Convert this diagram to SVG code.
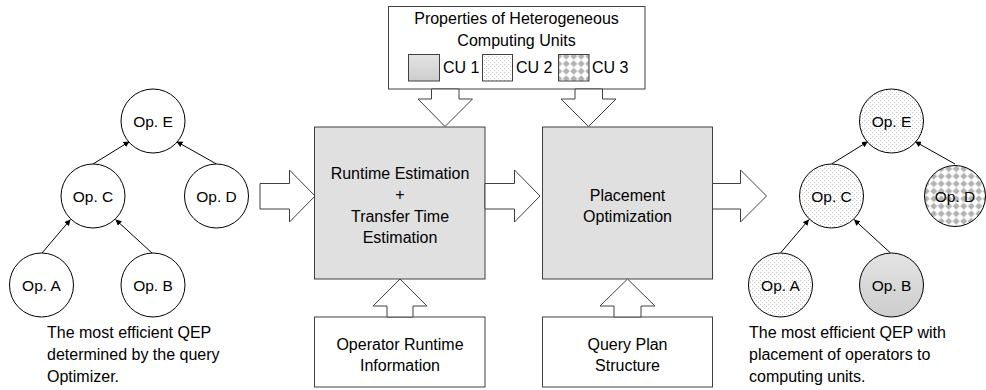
<svg xmlns="http://www.w3.org/2000/svg" width="986" height="390" viewBox="0 0 986 390">
<defs>
<style>
.box{fill:#e0e0e0;stroke:#404040;stroke-width:1}
.wbox{fill:#fff;stroke:#404040;stroke-width:1}
.barrow{fill:#fff;stroke:#404040;stroke-width:1;stroke-linejoin:miter}
.node{stroke:#000;stroke-width:1}
.edge{stroke:#000;stroke-width:1;fill:none;marker-end:url(#ah)}
text{font-family:"Liberation Sans",Arial,sans-serif;font-size:16px;fill:#000}
.c{text-anchor:middle}
.op{font-size:15.5px;text-anchor:middle}
</style>
<marker id="ah" markerWidth="6" markerHeight="6" refX="6" refY="3" orient="auto" markerUnits="userSpaceOnUse">
<path d="M0,0 L6,3 L0,6 z" fill="#000"/>
</marker>
<linearGradient id="g1" x1="0" y1="0" x2="0" y2="1">
<stop offset="0" stop-color="#e4e4e4"/>
<stop offset="1" stop-color="#cdcdcd"/>
</linearGradient>
<pattern id="dots" width="4" height="4" patternUnits="userSpaceOnUse">
<rect width="4" height="4" fill="#fff"/>
<rect x="0" y="0" width="1" height="1" fill="#c4c4c4"/>
<rect x="2" y="2" width="1" height="1" fill="#c4c4c4"/>
</pattern>
<pattern id="diam" width="7.5" height="7.5" patternUnits="userSpaceOnUse">
<rect width="7.5" height="7.5" fill="#fff"/>
<polygon points="3.75,0.2 7.3,3.75 3.75,7.3 0.2,3.75" fill="#b2b2b2"/>
</pattern>
</defs>

<g id="connectors">
<line class="edge" x1="93" y1="164" x2="129.5" y2="141.5"/>
<line class="edge" x1="216.5" y1="164" x2="176.5" y2="141.5"/>
<line class="edge" x1="42" y1="253" x2="70.5" y2="219.5"/>
<line class="edge" x1="152" y1="253" x2="115.5" y2="219.5"/>
<line class="edge" x1="831.5" y1="164" x2="868" y2="141.5"/>
<line class="edge" x1="955" y1="164" x2="915" y2="141.5"/>
<line class="edge" x1="780.5" y1="253" x2="809" y2="219.5"/>
<line class="edge" x1="890.5" y1="253" x2="854" y2="219.5"/>
</g>

<g id="left-tree">
<g id="l-opE"><circle class="node" cx="153" cy="121" r="32" fill="#fff"/><text class="op" x="153" y="126.5">Op. E</text></g>
<g id="l-opC"><circle class="node" cx="93" cy="196" r="32" fill="#fff"/><text class="op" x="93" y="201.5">Op. C</text></g>
<g id="l-opD"><circle class="node" cx="216.5" cy="196" r="32" fill="#fff"/><text class="op" x="216.5" y="201.5">Op. D</text></g>
<g id="l-opA"><circle class="node" cx="41.5" cy="285" r="32" fill="#fff"/><text class="op" x="41.5" y="290.5">Op. A</text></g>
<g id="l-opB"><circle class="node" cx="153" cy="285" r="32" fill="#fff"/><text class="op" x="153" y="290.5">Op. B</text></g>
<g id="l-caption">
<text x="47" y="338">The most efficient QEP</text>
<text x="47" y="360">determined by the query</text>
<text x="47" y="382">Optimizer.</text>
</g>
</g>

<g id="props">
<rect class="wbox" x="388.5" y="6.5" width="256.5" height="82.5"/>
<text class="c" x="516.5" y="24">Properties of Heterogeneous</text>
<text class="c" x="516.5" y="46">Computing Units</text>
<rect x="408.5" y="54.5" width="31" height="26.5" fill="url(#g1)" stroke="#404040"/>
<text x="443" y="73">CU 1</text>
<rect x="482.5" y="54.5" width="30" height="26.5" fill="url(#dots)" stroke="#404040"/>
<text x="516" y="73">CU 2</text>
<rect x="558.5" y="54.5" width="30.5" height="26.5" fill="url(#diam)" stroke="#404040"/>
<text x="592" y="73">CU 3</text>
</g>

<g id="runtime">
<rect class="box" x="314.5" y="127" width="170.5" height="152"/>
<text class="c" x="400" y="179">Runtime Estimation</text>
<text class="c" x="400" y="200">+</text>
<text class="c" x="400" y="221.5">Transfer Time</text>
<text class="c" x="400" y="242.5">Estimation</text>
</g>

<g id="placement">
<rect class="box" x="542.5" y="127" width="170" height="152"/>
<text class="c" x="627.5" y="201">Placement</text>
<text class="c" x="627.5" y="222">Optimization</text>
</g>

<g id="opinfo">
<rect class="wbox" x="314.5" y="317" width="170.5" height="70"/>
<text class="c" x="400" y="350">Operator Runtime</text>
<text class="c" x="400" y="371">Information</text>
</g>

<g id="qps">
<rect class="wbox" x="542.5" y="317" width="170" height="70"/>
<text class="c" x="627.5" y="350">Query Plan</text>
<text class="c" x="627.5" y="371">Structure</text>
</g>

<g id="block-arrows">
<polygon class="barrow" points="260,183.5 289.5,183.5 289.5,170 315,196 289.5,222 289.5,209 260,209"/>
<polygon class="barrow" points="485,183.5 514.5,183.5 514.5,170 540,196 514.5,222 514.5,209 485,209"/>
<polygon class="barrow" points="712.5,183.5 740.5,183.5 740.5,170 766.5,196 740.5,222 740.5,209 712.5,209"/>
<polygon class="barrow" points="400,279 427,306 413,306 413,317 387,317 387,306 373,306"/>
<polygon class="barrow" points="627.5,279 655,306 641,306 641,317 614,317 614,306 600,306"/>
<polygon class="barrow" points="431.5,89 459,89 459,99 472.5,99 445,126.5 418,99 431.5,99"/>
<polygon class="barrow" points="575,89 602.5,89 602.5,99 616,99 588.5,126.5 561,99 575,99"/>
</g>

<g id="right-tree">
<g id="r-opE"><circle class="node" cx="891.5" cy="121" r="32" fill="url(#dots)"/><text class="op" x="891.5" y="126.5">Op. E</text></g>
<g id="r-opC"><circle class="node" cx="831.5" cy="196" r="32" fill="url(#dots)"/><text class="op" x="831.5" y="201.5">Op. C</text></g>
<g id="r-opD"><circle class="node" cx="955" cy="196" r="30.5" fill="url(#diam)"/><text class="op" x="955" y="201.5">Op. D</text></g>
<g id="r-opA"><circle class="node" cx="780.5" cy="285" r="32" fill="url(#dots)"/><text class="op" x="780.5" y="290.5">Op. A</text></g>
<g id="r-opB"><circle class="node" cx="891.5" cy="285" r="32" fill="url(#g1)"/><text class="op" x="891.5" y="290.5">Op. B</text></g>
<g id="r-caption">
<text x="749" y="338">The most efficient QEP with</text>
<text x="749" y="360">placement of operators to</text>
<text x="749" y="382">computing units.</text>
</g>
</g>
</svg>
